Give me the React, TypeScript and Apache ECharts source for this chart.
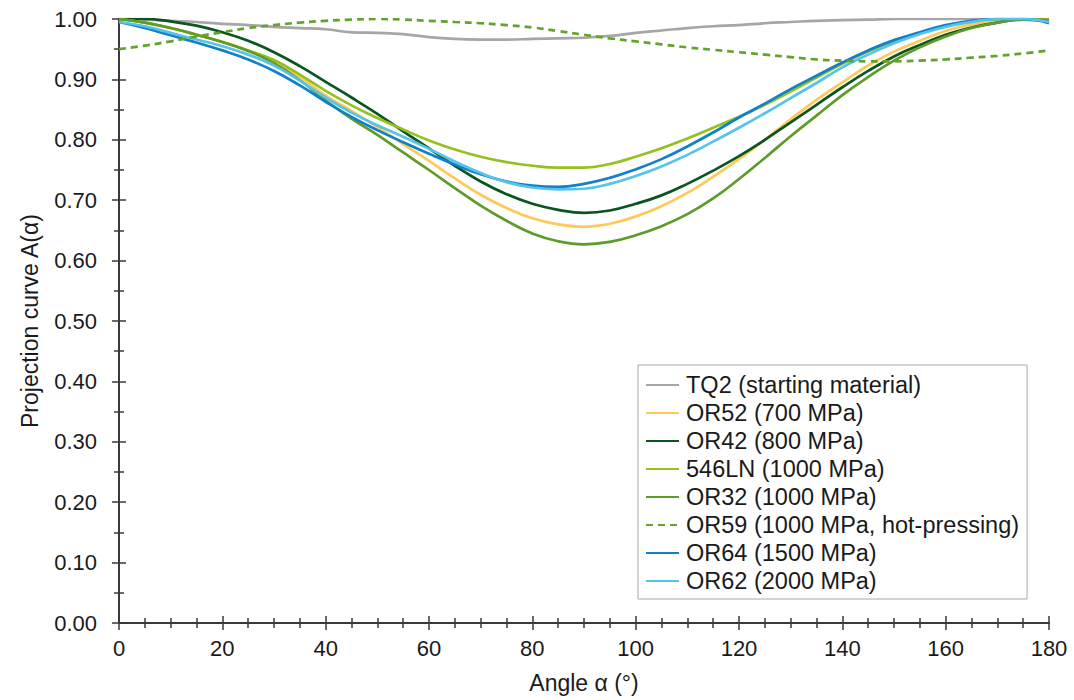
import React, { useEffect, useRef } from "react";
import * as echarts from "echarts";

const angles = [0, 5, 10, 15, 20, 25, 30, 35, 40, 45, 50, 55, 60, 65, 70, 75, 80, 85, 90, 95, 100, 105, 110, 115, 120, 125, 130, 135, 140, 145, 150, 155, 160, 165, 170, 175, 180];

const tq2 = [1.0, 0.999, 0.997, 0.995, 0.992, 0.990, 0.987, 0.985, 0.983, 0.978, 0.977, 0.975, 0.970, 0.967, 0.966, 0.966, 0.967, 0.968, 0.969, 0.972, 0.977, 0.981, 0.985, 0.988, 0.990, 0.993, 0.995, 0.997, 0.998, 0.999, 1.0, 1.0, 1.0, 1.0, 1.0, 1.0, 1.0];
const or52 = [1.0, 0.994, 0.985, 0.974, 0.962, 0.948, 0.930, 0.905, 0.873, 0.848, 0.821, 0.793, 0.765, 0.736, 0.709, 0.687, 0.670, 0.660, 0.656, 0.661, 0.673, 0.690, 0.712, 0.739, 0.768, 0.800, 0.834, 0.866, 0.895, 0.923, 0.946, 0.964, 0.980, 0.991, 0.997, 1.0, 1.0];
const or42 = [1.0, 1.0, 0.996, 0.989, 0.978, 0.964, 0.945, 0.922, 0.896, 0.870, 0.843, 0.814, 0.786, 0.757, 0.731, 0.710, 0.694, 0.684, 0.679, 0.683, 0.694, 0.708, 0.727, 0.749, 0.773, 0.800, 0.829, 0.858, 0.887, 0.914, 0.938, 0.957, 0.974, 0.986, 0.994, 0.999, 0.998];
const ln546 = [1.0, 0.994, 0.985, 0.974, 0.962, 0.948, 0.932, 0.908, 0.881, 0.857, 0.836, 0.817, 0.799, 0.784, 0.772, 0.763, 0.757, 0.754, 0.754, 0.760, 0.772, 0.786, 0.802, 0.820, 0.838, 0.858, 0.880, 0.903, 0.926, 0.946, 0.963, 0.977, 0.989, 0.996, 1.0, 1.0, 0.996];
const or32 = [1.0, 0.994, 0.985, 0.974, 0.962, 0.947, 0.927, 0.899, 0.865, 0.835, 0.808, 0.779, 0.750, 0.720, 0.691, 0.666, 0.645, 0.632, 0.627, 0.631, 0.642, 0.657, 0.677, 0.703, 0.735, 0.770, 0.806, 0.840, 0.874, 0.904, 0.931, 0.953, 0.971, 0.985, 0.994, 0.999, 0.998];
const or59 = [0.950, 0.956, 0.963, 0.971, 0.978, 0.985, 0.990, 0.994, 0.997, 0.999, 1.0, 0.999, 0.997, 0.995, 0.993, 0.990, 0.986, 0.980, 0.974, 0.968, 0.963, 0.958, 0.953, 0.949, 0.945, 0.941, 0.937, 0.933, 0.931, 0.930, 0.930, 0.931, 0.933, 0.936, 0.939, 0.943, 0.948];
const or64 = [0.995, 0.985, 0.973, 0.961, 0.948, 0.933, 0.914, 0.890, 0.863, 0.838, 0.816, 0.796, 0.777, 0.759, 0.743, 0.731, 0.724, 0.722, 0.727, 0.737, 0.751, 0.768, 0.789, 0.812, 0.837, 0.860, 0.884, 0.906, 0.928, 0.948, 0.965, 0.978, 0.990, 0.997, 1.0, 1.0, 0.993];
const or62 = [0.995, 0.988, 0.977, 0.966, 0.955, 0.941, 0.923, 0.898, 0.870, 0.845, 0.824, 0.805, 0.785, 0.764, 0.745, 0.730, 0.721, 0.718, 0.719, 0.727, 0.740, 0.756, 0.775, 0.797, 0.820, 0.844, 0.869, 0.894, 0.920, 0.941, 0.960, 0.975, 0.987, 0.995, 1.0, 1.0, 0.995];

const seriesNames = [
  "TQ2 (starting material)",
  "OR52 (700 MPa)",
  "OR42 (800 MPa)",
  "546LN (1000 MPa)",
  "OR32 (1000 MPa)",
  "OR59 (1000 MPa, hot-pressing)",
  "OR64 (1500 MPa)",
  "OR62 (2000 MPa)",
];
const seriesValues = [tq2, or52, or42, ln546, or32, or59, or64, or62];
const seriesColors = ["#a6a6a6", "#ffc857", "#0a5520", "#95c11f", "#5e9b2a", "#63a32c", "#0f80c9", "#55c3ea"];
const seriesDashed = [false, false, false, false, false, true, false, false];

const FONT = "'Liberation Sans', Arial, sans-serif";

export default function App() {
  const ref = useRef<HTMLDivElement>(null);
  useEffect(() => {
    document.body.style.margin = "0";
    const chart = echarts.init(ref.current!, null, { renderer: "svg" });
    const axisLine = { show: true, lineStyle: { color: "#3a3a3a", width: 2 } };
    const axisTick = { show: true, inside: true, length: 7, lineStyle: { color: "#3a3a3a", width: 1.5 } };
    const minorTickX = { show: true, splitNumber: 4, length: 5, lineStyle: { color: "#3a3a3a", width: 1.5 } };
    const minorTickY = { show: true, splitNumber: 2, length: 5, lineStyle: { color: "#3a3a3a", width: 1.5 } };
    const labelStyle = { color: "#1a1a1a", fontSize: 22, fontFamily: FONT };
    const xBase = { type: "value", min: 0, max: 180, interval: 20, axisLine, axisTick, minorTick: minorTickX, splitLine: { show: false } };
    const yBase = { type: "value", min: 0, max: 1, interval: 0.1, axisLine, axisTick, minorTick: minorTickY, splitLine: { show: false } };
    chart.setOption({
      animation: false,
      backgroundColor: "#fff",
      grid: { left: 119, right: 25, top: 19, bottom: 77, containLabel: false },
      xAxis: [
        {
          ...xBase,
          position: "bottom",
          name: "Angle α (°)",
          nameLocation: "middle",
          nameGap: 48,
          nameTextStyle: { color: "#1a1a1a", fontSize: 23, fontFamily: FONT },
          axisLabel: { ...labelStyle, margin: 14 },
        },
        { ...xBase, position: "top", axisLabel: { show: false } },
      ],
      yAxis: [
        {
          ...yBase,
          position: "left",
          name: "Projection curve A(α)",
          nameLocation: "middle",
          nameGap: 78,
          nameTextStyle: { color: "#1a1a1a", fontSize: 23, fontFamily: FONT },
          axisLabel: { ...labelStyle, margin: 22, formatter: (v: number) => v.toFixed(2) },
        },
        { ...yBase, position: "right", axisLabel: { show: false } },
      ],
      legend: {
        orient: "vertical",
        left: 638,
        top: 365,
        data: seriesNames,
        itemWidth: 33,
        itemHeight: 20,
        itemGap: 4,
        padding: [8, 8, 6, 7],
        borderColor: "#a8a8a8",
        borderWidth: 1,
        backgroundColor: "#fff",
        itemStyle: { opacity: 0 },
        textStyle: { color: "#1a1a1a", fontSize: 23.5, fontFamily: FONT, lineHeight: 20, padding: [0, 0, 0, 2] },
      },
      series: seriesNames.map((name, i) => ({
        name,
        type: "line",
        xAxisIndex: 0,
        yAxisIndex: 0,
        data: angles.map((a, j) => [a, seriesValues[i][j]]),
        symbol: "none",
        smooth: 0.45,
        clip: true,
        z: i === 5 ? 3 : 2,
        lineStyle: { color: seriesColors[i], width: 2.7, type: seriesDashed[i] ? [7, 5] : "solid" },
        itemStyle: { color: seriesColors[i] },
      })),
    });
    return () => chart.dispose();
  }, []);
  return <div ref={ref} style={{ width: 1074, height: 700 }} />;
}
